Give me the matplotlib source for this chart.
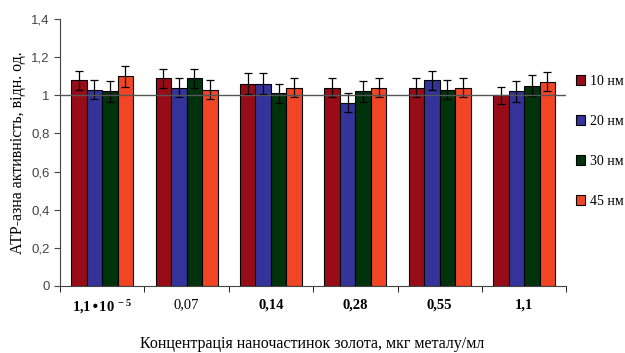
import matplotlib
matplotlib.use('Agg')
import matplotlib.pyplot as plt
import numpy as np

plt.rcParams['font.family'] = ['Liberation Serif', 'DejaVu Serif']
plt.rcParams['mathtext.default'] = 'regular'

categories = ['1,1\u202210$^{\\,-5}$', '0,07', '0,14', '0,28', '0,55', '1,1']
bold_ticks = [True, False, True, True, True, True]
series = ['10 нм', '20 нм', '30 нм', '45 нм']
values = [
    [1.08, 1.09, 1.06, 1.04, 1.04, 1.00],   # 10 nm
    [1.03, 1.04, 1.06, 0.96, 1.08, 1.02],   # 20 nm
    [1.02, 1.09, 1.01, 1.02, 1.03, 1.05],   # 30 nm
    [1.10, 1.03, 1.04, 1.04, 1.04, 1.07],   # 45 nm
]
errors = [
    [0.05, 0.05, 0.055, 0.05, 0.05, 0.045],
    [0.05, 0.05, 0.055, 0.05, 0.05, 0.055],
    [0.055, 0.05, 0.05, 0.055, 0.05, 0.055],
    [0.055, 0.05, 0.05, 0.05, 0.05, 0.05],
]
colors = ['#980C18', '#333399', '#00320C', '#F24526']

fig = plt.figure(figsize=(6.25, 3.53), dpi=100)
ax = fig.add_axes([0.096, 0.19, 0.81, 0.756])

x = np.arange(len(categories))
width = 0.735 / 4
for i, (vals, errs) in enumerate(zip(values, errors)):
    pos = x - 0.3675 + width * (i + 0.5)
    ax.bar(pos, vals, width, color=colors[i], edgecolor='black', linewidth=0.8,
           label=series[i], zorder=2)
    ax.errorbar(pos, vals, yerr=errs, fmt='none', ecolor='black', elinewidth=0.9,
                capsize=3, capthick=0.9, zorder=3)

ax.axhline(1.0, color='#555555', linewidth=1.0, zorder=4)

yt = np.arange(0, 1.41, 0.2)
ylabels = ['0', '0,2', '0,4', '0,6', '0,8', '1', '1,2', '1,4']
ax.set_xlim(-0.5, len(categories) - 0.5)
ax.set_ylim(0, 1.4)
ax.set_yticks(yt)
ax.set_yticklabels(ylabels, family='Liberation Sans', color='#444444', fontsize=9.5)
ax.set_xticks(x)
ax.set_xticklabels(categories, fontsize=10.5)
for lab, b in zip(ax.get_xticklabels(), bold_ticks):
    lab.set_fontweight('bold' if b else 'normal')
ax.set_xticks(np.arange(-0.5, len(categories)), minor=True)
ax.tick_params(axis='x', which='major', length=0, pad=9)
ax.tick_params(axis='x', which='minor', length=4, direction='out')
ax.tick_params(axis='y', length=4, direction='out', colors='#444444', labelcolor='#444444')

for s in ['top', 'right']:
    ax.spines[s].set_visible(False)
for s in ['left', 'bottom']:
    ax.spines[s].set_color('#444444')

ax.set_ylabel('АТР-азна активність, відн. од.', fontsize=11.5)
fig.text(0.5, 0.025, 'Концентрація наночастинок золота, мкг металу/мл',
         ha='center', va='center', fontsize=11.5)

leg = fig.legend(loc='upper left', bbox_to_anchor=(0.921, 0.788), frameon=False,
                 fontsize=10, handlelength=0.7, handleheight=0.7,
                 handletextpad=0.35, labelspacing=1.95, borderaxespad=0,
                 borderpad=0)

fig.savefig('out.png', dpi=100)
